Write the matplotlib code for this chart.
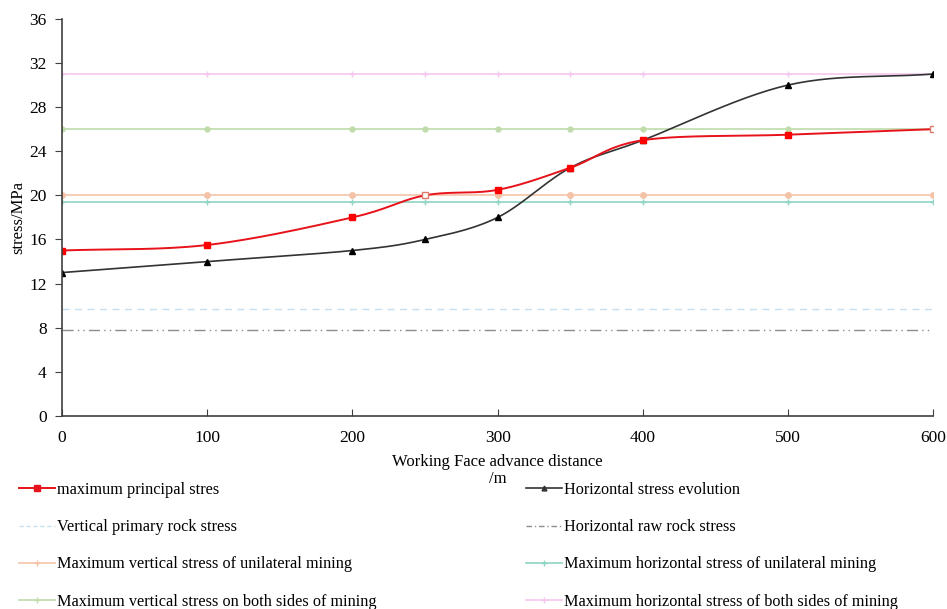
import matplotlib.pyplot as plt
import numpy as np
from matplotlib.lines import Line2D

plt.rcParams['font.family'] = ['Liberation Serif', 'DejaVu Serif']

distance = [0, 100, 200, 250, 300, 350, 400, 500, 600]
max_principal = [15, 15.5, 18, 20, 20.5, 22.5, 25, 25.5, 26]
horizontal_evol = [13, 14, 15, 16, 18, 22.5, 25, 30, 31]
vert_primary = 9.7
horiz_raw = 7.8
vert_unilateral = 20
horiz_unilateral = 19.4
vert_both = 26
horiz_both = 31


def smooth(x, y, n=30):
    # Catmull-Rom style smoothing, similar to a spreadsheet "smoothed line"
    x = np.asarray(x, float)
    y = np.asarray(y, float)
    px = np.concatenate([[2 * x[0] - x[1]], x, [2 * x[-1] - x[-2]]])
    py = np.concatenate([[2 * y[0] - y[1]], y, [2 * y[-1] - y[-2]]])
    xs, ys = [], []
    for i in range(1, len(px) - 2):
        t = np.linspace(0, 1, n)
        for arr, out in ((px, xs), (py, ys)):
            p0, p1, p2, p3 = arr[i - 1], arr[i], arr[i + 1], arr[i + 2]
            out.append(0.5 * ((2 * p1) + (-p0 + p2) * t
                              + (2 * p0 - 5 * p1 + 4 * p2 - p3) * t ** 2
                              + (-p0 + 3 * p1 - 3 * p2 + p3) * t ** 3))
    return np.concatenate(xs), np.concatenate(ys)


fig = plt.figure(figsize=(9.47, 6.09), dpi=100)
ax = fig.add_axes([0.0655, 0.317, 0.92, 0.652])

flat = np.ones(len(distance))
ax.plot(distance, flat * vert_primary, color='#c5dff0', ls=(0, (5, 4)), lw=1.0)
ax.plot(distance, flat * horiz_raw, color='#8c8c8c', ls=(0, (8, 3, 1, 3, 1, 3)), lw=1.0)
ax.plot(distance, flat * vert_unilateral, color='#f5c4a8', lw=1.2, marker='o', ms=4)
ax.plot(distance, flat * horiz_unilateral, color='#8fd4c4', lw=1.2, marker='+', ms=4)
ax.plot(distance, flat * vert_both, color='#bfdcaa', lw=1.2, marker='o', ms=3.5)
ax.plot(distance, flat * horiz_both, color='#f5c6f0', lw=1.2, marker='+', ms=4)

sx, sy = smooth(distance, horizontal_evol)
ax.plot(sx, sy, color='#333333', lw=1.2)
ax.plot(distance, horizontal_evol, ls='none', marker='^', ms=4, color='black')
sx, sy = smooth(distance, max_principal)
ax.plot(sx, sy, color='#e8121b', lw=1.4)
ax.plot(distance, max_principal, ls='none', marker='s', ms=5, color='#ff0000',
        markevery=[0, 1, 2, 4, 5, 6, 7])
ax.plot(distance, max_principal, ls='none', marker='s', ms=5, mfc='white',
        mec='#e07a6a', markevery=[3, 8])

ax.set_xlim(0, 600)
ax.set_ylim(0, 36)
ax.set_xticks(range(0, 601, 100))
ax.set_yticks(range(0, 37, 4))
for s in ('top', 'right'):
    ax.spines[s].set_visible(False)
for s in ('left', 'bottom'):
    ax.spines[s].set_color('#404040')
    ax.spines[s].set_linewidth(1.2)
ax.tick_params(labelsize=12.5, direction='out', length=5, color='#404040')
ax.tick_params(axis='x', direction='in', pad=10)
ax.tick_params(axis='y', pad=6)
ax.set_ylabel('stress/MPa', fontsize=12, labelpad=2)
ax.set_xlabel('Working Face advance distance\n/m', fontsize=12, labelpad=6,
              linespacing=1.1)

handles = [
    Line2D([], [], color='#e8121b', lw=1.4, marker='s', ms=4),
    Line2D([], [], color='#c5dff0', ls=(0, (3, 2)), lw=1.0),
    Line2D([], [], color='#f5c4a8', lw=1.2, marker='+', ms=4),
    Line2D([], [], color='#bfdcaa', lw=1.2, marker='+', ms=4),
    Line2D([], [], color='#333333', lw=1.2, marker='^', ms=3.5),
    Line2D([], [], color='#8c8c8c', ls=(0, (4, 2, 1, 2)), lw=1.0),
    Line2D([], [], color='#8fd4c4', lw=1.2, marker='+', ms=4),
    Line2D([], [], color='#f5c6f0', lw=1.2, marker='+', ms=4),
]
labels = [
    'maximum principal stres',
    'Vertical primary rock stress',
    'Maximum vertical stress of unilateral mining',
    'Maximum vertical stress on both sides of mining',
    'Horizontal stress evolution',
    'Horizontal raw rock stress',
    'Maximum horizontal stress of unilateral mining',
    'Maximum horizontal stress of both sides of mining',
]
fig.legend(handles, labels, loc='upper left', bbox_to_anchor=(0.013, 0.219), ncol=2,
           frameon=False, fontsize=11.7, handlelength=2.2, handletextpad=0.15,
           columnspacing=9.2, labelspacing=1.3, borderaxespad=0)

fig.savefig('out.png', dpi=100)
